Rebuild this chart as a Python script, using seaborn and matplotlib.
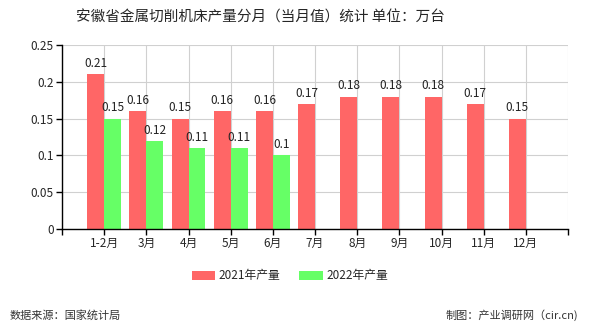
import matplotlib
matplotlib.use("Agg")
import matplotlib.pyplot as plt
import seaborn as sns
import numpy as np
import pandas as pd
from matplotlib.patches import Patch

months = ["1-2月", "3月", "4月", "5月", "6月", "7月", "8月", "9月", "10月", "11月", "12月"]
v2021 = [0.21, 0.16, 0.15, 0.16, 0.16, 0.17, 0.18, 0.18, 0.18, 0.17, 0.15]
v2022 = [0.15, 0.12, 0.11, 0.11, 0.10, np.nan, np.nan, np.nan, np.nan, np.nan, np.nan]
series = ["2021年产量", "2022年产量"]
yticks = [0, 0.05, 0.1, 0.15, 0.2, 0.25]
ytick_labels = ["0", "0.05", "0.1", "0.15", "0.2", "0.25"]
title = "安徽省金属切削机床产量分月（当月值）统计 单位：万台"
source = "数据来源：国家统计局"
credit = "制图：产业调研网（cir.cn)"

colors = ["#FF6666", "#66FF66"]

df = pd.DataFrame({
    "month": months * 2,
    "value": v2021 + v2022,
    "series": [series[0]] * len(months) + [series[1]] * len(months),
})

sns.set_theme(style="white")
plt.rcParams["font.family"] = ["Noto Sans CJK SC", "DejaVu Sans"]

fig = plt.figure(figsize=(5.9, 3.3), dpi=100)
ax = fig.add_axes([62/590, 101/330, (568-62)/590, (229-45)/330])

sns.barplot(data=df, x="month", y="value", hue="series", order=months,
            hue_order=series, palette=colors, width=0.8, saturation=1,
            ax=ax, legend=False, errorbar=None, linewidth=0, edgecolor="none")

for cont in ax.containers:
    labels = [f"{v:g}" for v in cont.datavalues]
    ax.bar_label(cont, labels=labels, padding=3, fontsize=8.5, color="#222222")

ax.set_xlim(-1, 11)
ax.set_ylim(0, 0.25)
ax.set_yticks(yticks)
ax.set_yticklabels(ytick_labels, fontsize=8.5)
ax.set_xticks(range(-1, 12))
ax.set_xticklabels([""] + months + [""], fontsize=8.5)
ax.set_xlabel("")
ax.set_ylabel("")
ax.grid(True, color="#d0d0d0", linewidth=0.8)
ax.set_axisbelow(True)
for s in ["top", "right"]:
    ax.spines[s].set_visible(False)
for s in ["left", "bottom"]:
    ax.spines[s].set_color("black")
    ax.spines[s].set_linewidth(1)
ax.tick_params(axis="both", which="both", length=4, width=1, color="black",
               bottom=True, left=True, pad=2)

fig.text(260/590, 1 - 18/330, title, ha="center", va="center", fontsize=10.5)

handles = [Patch(facecolor=c, edgecolor="none") for c in colors]
fig.legend(handles, series, loc="center", bbox_to_anchor=(290/590, 1 - 276/330),
           ncol=2, frameon=False, fontsize=8.5, handlelength=2.0, handleheight=0.9,
           columnspacing=1.6, handletextpad=0.3)

fig.text(10/590, 1 - 315/330, source, ha="left", va="center", fontsize=8, color="#333333")
fig.text(578/590, 1 - 315/330, credit, ha="right", va="center", fontsize=8, color="#333333")

fig.savefig("out.png", dpi=100)
